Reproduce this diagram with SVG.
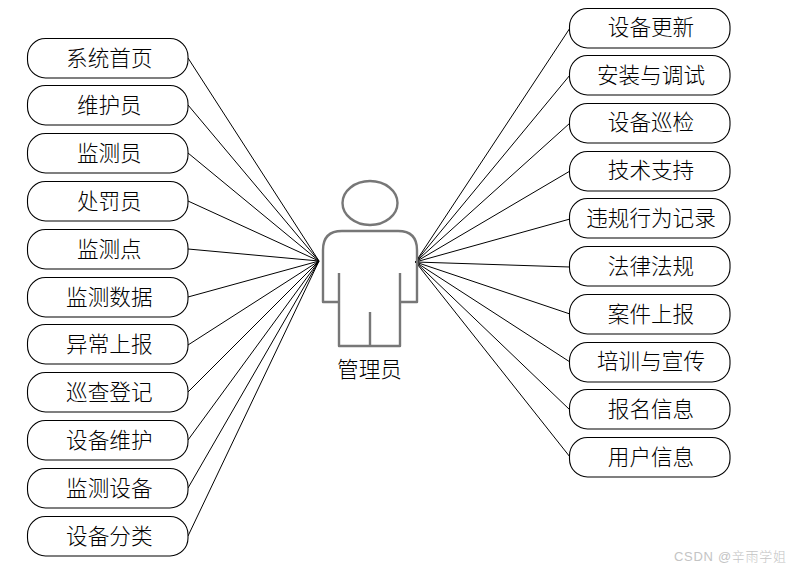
<svg xmlns="http://www.w3.org/2000/svg" width="792" height="570" viewBox="0 0 792 570">
<style>
text{font-family:"Noto Sans CJK SC","Liberation Sans",sans-serif;font-size:21.6px;fill:#000;text-anchor:middle;font-weight:300}
.b{fill:#fff;stroke:#000;stroke-width:1.1}
.c line{stroke:#000;stroke-width:1;fill:none}
.a{fill:none;stroke:#777;stroke-width:2.4;stroke-linejoin:round}
.w{font-family:"Liberation Sans","Noto Sans CJK SC",sans-serif;font-size:13px;fill:#c4c4c4;text-anchor:start;letter-spacing:.7px}
</style>
<rect width="792" height="570" fill="#fff"/>
<g id="connectors" class="c">
<line x1="188" y1="58" x2="319" y2="261"/>
<line x1="188" y1="105" x2="319" y2="261"/>
<line x1="188" y1="153" x2="319" y2="261"/>
<line x1="188" y1="201" x2="319" y2="261"/>
<line x1="188" y1="249" x2="319" y2="261"/>
<line x1="188" y1="297" x2="319" y2="261"/>
<line x1="188" y1="345" x2="319" y2="261"/>
<line x1="188" y1="392" x2="319" y2="261"/>
<line x1="188" y1="440" x2="319" y2="261"/>
<line x1="188" y1="488" x2="319" y2="261"/>
<line x1="188" y1="536" x2="319" y2="261"/>
<line x1="570" y1="28" x2="415.500" y2="262"/>
<line x1="570" y1="75" x2="415.500" y2="262"/>
<line x1="570" y1="123" x2="415.500" y2="262"/>
<line x1="570" y1="171" x2="415.500" y2="262"/>
<line x1="570" y1="219" x2="415.500" y2="262"/>
<line x1="570" y1="267" x2="415.500" y2="262"/>
<line x1="570" y1="314" x2="415.500" y2="262"/>
<line x1="570" y1="362" x2="415.500" y2="262"/>
<line x1="570" y1="410" x2="415.500" y2="262"/>
<line x1="570" y1="457" x2="415.500" y2="262"/>
</g>
<g id="actor">
<ellipse class="a" cx="370" cy="203" rx="27.5" ry="22"/>
<path class="a" d="M339 273V302H323V250Q323 231 342 231H398Q417 231 417 250V302H400V273M339 302V346H400V302M370 312V346"/>
<text x="369.500" y="377">管理员</text>
</g>
<g id="n1"><rect class="b" x="27.5" y="38.5" width="160.5" height="39.5" rx="18"/><text x="109.300" y="65.500">系统首页</text></g>
<g id="n2"><rect class="b" x="27.5" y="85.5" width="160.5" height="39.5" rx="18"/><text x="109.300" y="112.500">维护员</text></g>
<g id="n3"><rect class="b" x="27.5" y="133.5" width="160.5" height="39.5" rx="18"/><text x="109.300" y="160.500">监测员</text></g>
<g id="n4"><rect class="b" x="27.5" y="181.5" width="160.5" height="39.5" rx="18"/><text x="109.300" y="208.500">处罚员</text></g>
<g id="n5"><rect class="b" x="27.5" y="229.5" width="160.5" height="39.5" rx="18"/><text x="109.300" y="256.500">监测点</text></g>
<g id="n6"><rect class="b" x="27.5" y="277.5" width="160.5" height="39.5" rx="18"/><text x="109.300" y="304.500">监测数据</text></g>
<g id="n7"><rect class="b" x="27.5" y="324.5" width="160.5" height="39.5" rx="18"/><text x="109.300" y="351.500">异常上报</text></g>
<g id="n8"><rect class="b" x="27.5" y="372.5" width="160.5" height="39.5" rx="18"/><text x="109.300" y="399.500">巡查登记</text></g>
<g id="n9"><rect class="b" x="27.5" y="420.5" width="160.5" height="39.5" rx="18"/><text x="109.300" y="447.500">设备维护</text></g>
<g id="n10"><rect class="b" x="27.5" y="468.5" width="160.5" height="39.5" rx="18"/><text x="109.300" y="495.500">监测设备</text></g>
<g id="n11"><rect class="b" x="27.5" y="516.5" width="160.5" height="39.5" rx="18"/><text x="109.300" y="543.500">设备分类</text></g>
<g id="m1"><rect class="b" x="569.5" y="8.500" width="160.5" height="39.500" rx="18"/><text x="651" y="34.500">设备更新</text></g>
<g id="m2"><rect class="b" x="569.5" y="55.500" width="160.5" height="39.500" rx="18"/><text x="651" y="82.500">安装与调试</text></g>
<g id="m3"><rect class="b" x="569.5" y="103.500" width="160.5" height="39.500" rx="18"/><text x="651" y="129.500">设备巡检</text></g>
<g id="m4"><rect class="b" x="569.5" y="151.500" width="160.5" height="39.500" rx="18"/><text x="651" y="177.500">技术支持</text></g>
<g id="m5"><rect class="b" x="569.5" y="198.500" width="160.5" height="39.500" rx="18"/><text x="651" y="225.500">违规行为记录</text></g>
<g id="m6"><rect class="b" x="569.5" y="246.500" width="160.5" height="39.500" rx="18"/><text x="651" y="273.500">法律法规</text></g>
<g id="m7"><rect class="b" x="569.5" y="294.500" width="160.5" height="39.500" rx="18"/><text x="651" y="321.500">案件上报</text></g>
<g id="m8"><rect class="b" x="569.5" y="342.500" width="160.5" height="39.500" rx="18"/><text x="651" y="368.500">培训与宣传</text></g>
<g id="m9"><rect class="b" x="569.5" y="389.500" width="160.5" height="39.500" rx="18"/><text x="651" y="416.500">报名信息</text></g>
<g id="m10"><rect class="b" x="569.5" y="437.500" width="160.5" height="39.500" rx="18"/><text x="651" y="464.500">用户信息</text></g>
<text class="w" x="674" y="561">CSDN @辛雨学姐</text>
</svg>
